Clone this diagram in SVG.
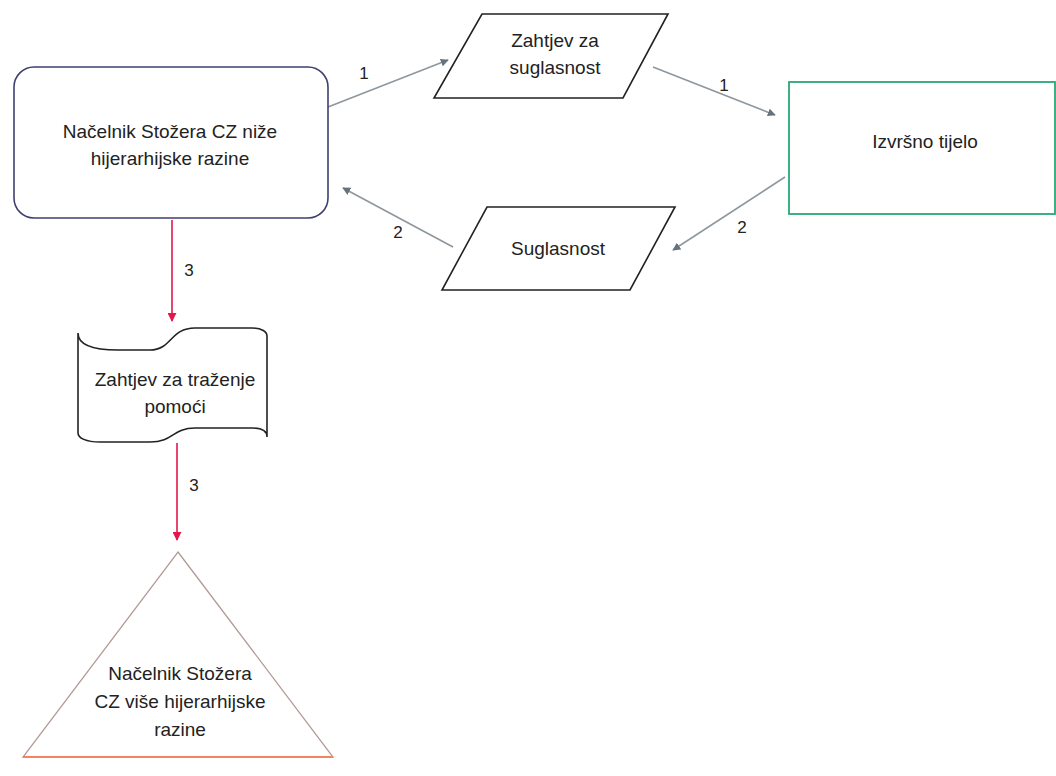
<svg xmlns="http://www.w3.org/2000/svg" width="1056" height="776" viewBox="0 0 1056 776">
<style>
text{font-family:"Liberation Sans",Arial,sans-serif;font-size:19px;fill:#222;text-anchor:middle}
.lbl{font-size:17px}
.shape{fill:#fff;stroke:#222;stroke-width:1.6}
.gc{fill:none;stroke:#8e979d;stroke-width:1.6}
.rc{fill:none;stroke:#e3174c;stroke-width:1.6}
</style>
<defs>
<marker id="ag" viewBox="0 0 10 10" refX="9" refY="5" markerWidth="8" markerHeight="8" markerUnits="userSpaceOnUse" orient="auto"><path d="M0,0 L10,5 L0,10 z" fill="#66737c"/></marker>
<marker id="ar" viewBox="0 0 10 10" refX="9" refY="5" markerWidth="9" markerHeight="9" markerUnits="userSpaceOnUse" orient="auto"><path d="M0,0 L10,5 L0,10 z" fill="#e3174c"/></marker>
</defs>
<rect width="1056" height="776" fill="#fff"/>
<g id="connectors">
<line class="gc" x1="328" y1="107" x2="448" y2="60" marker-end="url(#ag)"/>
<line class="gc" x1="653" y1="67" x2="775" y2="115" marker-end="url(#ag)"/>
<line class="gc" x1="785" y1="177" x2="673" y2="250" marker-end="url(#ag)"/>
<line class="gc" x1="453" y1="247" x2="343" y2="188" marker-end="url(#ag)"/>
<line class="rc" x1="172" y1="220" x2="172" y2="321" marker-end="url(#ar)"/>
<line class="rc" x1="177" y1="443" x2="177" y2="540" marker-end="url(#ar)"/>
<text class="lbl" x="364" y="79">1</text>
<text class="lbl" x="724" y="91">1</text>
<text class="lbl" x="742" y="233">2</text>
<text class="lbl" x="398" y="238">2</text>
<text class="lbl" x="189" y="276">3</text>
<text class="lbl" x="194" y="491">3</text>
</g>
<g id="node-nacelnik-nize">
<rect x="14" y="67" width="314" height="151" rx="20" fill="#fff" stroke="#3f3f72" stroke-width="1.6"/>
<text x="170" y="138">Načelnik Stožera CZ niže</text>
<text x="170" y="165">hijerarhijske razine</text>
</g>
<g id="node-zahtjev-suglasnost">
<polygon class="shape" points="482,14 668,14 623,98 434,98"/>
<text x="555" y="47">Zahtjev za</text>
<text x="555" y="74">suglasnost</text>
</g>
<g id="node-suglasnost">
<polygon class="shape" points="487,207 675,207 630,290 442,290"/>
<text x="558" y="255">Suglasnost</text>
</g>
<g id="node-izvrsno">
<rect x="789" y="82" width="266" height="132" fill="#fff" stroke="#2aa775" stroke-width="1.8"/>
<text x="925" y="148">Izvršno tijelo</text>
</g>
<g id="node-zahtjev-pomoci">
<path class="shape" d="M78,333 C78,345 92,350 118,350 L150,350 C172,350 170,328 195,328 L252,328 C262,328 267,332 267,336 L267,437 C267,431 262,428 252,428 L195,428 C172,428 174,442 150,442 L100,442 C86,442 78,438 78,433 Z"/>
<text x="175" y="386">Zahtjev za traženje</text>
<text x="175" y="413">pomoći</text>
</g>
<g id="node-nacelnik-vise">
<polygon points="178,552 333,757 23,757" fill="#fff" stroke="#b49a96" stroke-width="1.3"/>
<line x1="23" y1="757" x2="333" y2="757" stroke="#f3845e" stroke-width="2"/>
<text x="180" y="680">Načelnik Stožera</text>
<text x="180" y="708">CZ više hijerarhijske</text>
<text x="180" y="736">razine</text>
</g>
</svg>
